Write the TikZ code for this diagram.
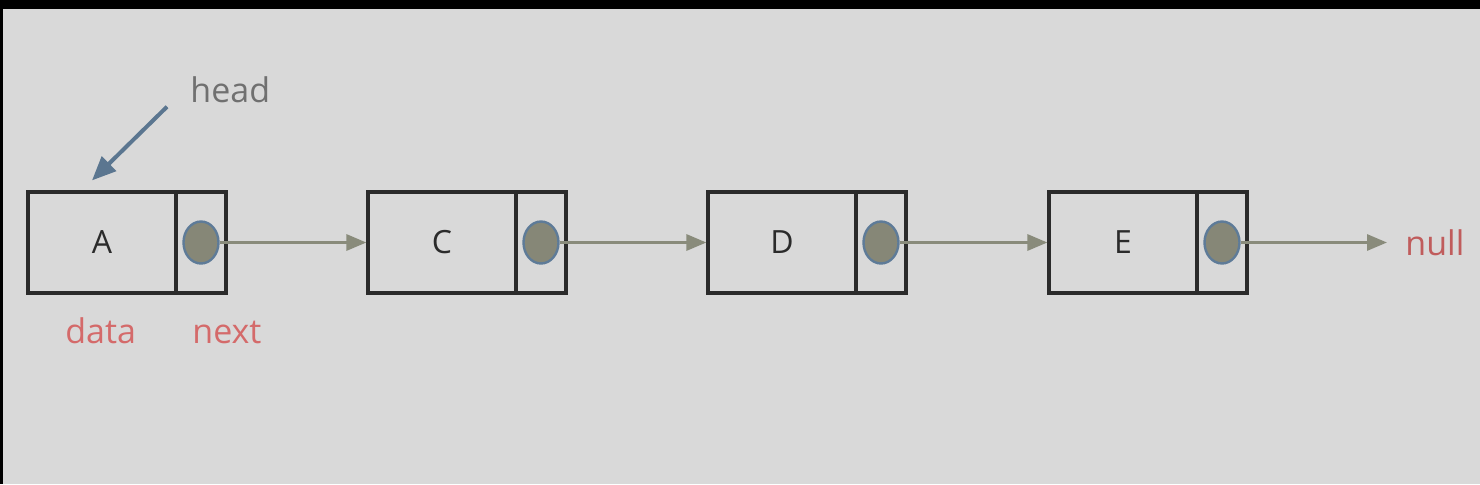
\documentclass[tikz,border=0pt]{standalone}
\usepackage{fontspec}
\setmainfont{Open Sans}
\usetikzlibrary{arrows.meta,shapes.geometric}
\definecolor{bg}{HTML}{D9D9D9}
\definecolor{boxline}{HTML}{2B2B2B}
\definecolor{ptrfill}{HTML}{868777}
\definecolor{ptrline}{HTML}{5E7B98}
\definecolor{linkcol}{HTML}{898B7B}
\definecolor{lblred}{HTML}{D46A6A}
\definecolor{nullred}{HTML}{C05C5C}
\definecolor{headgray}{HTML}{707070}
\definecolor{headblue}{HTML}{5B7690}
\tikzset{
  cell/.style={draw=boxline, line width=1.6pt, minimum height=50.5pt, inner sep=0pt},
  datacell/.style={cell, minimum width=74pt, text=boxline, font=\fontsize{16}{19}\selectfont},
  nextcell/.style={cell, minimum width=25pt},
  ptr/.style={ellipse, draw=ptrline, fill=ptrfill, line width=1.2pt, minimum width=17.5pt, minimum height=21pt, inner sep=0pt},
  link/.style={draw=linkcol, line width=1.5pt, -{Triangle[length=10pt,width=8pt]}},
  lbl/.style={inner sep=0pt, anchor=base west, font=\fontsize{17}{20}\selectfont},
}
\begin{document}
\begin{tikzpicture}[x=0.5pt,y=0.5pt]
                \useasboundingbox (0,0) rectangle (1480,484);
                \fill[black] (0,0) rectangle (1480,484);
                \fill[bg] (3,0) rectangle (1480,475);

                \foreach \name/\val/\x in {a/A/27,c/C/367,d/D/707,e/E/1048} {
                  \node[datacell] (\name) at (\x+75,241.5) {\val};
                  \node[nextcell] (\name n) at (\x+174,241.5) {};
                  \node[ptr] (\name p) at (\name n) {};
                }

                \foreach \from/\to in {a/c,c/d,d/e}
                  \draw[link] (\from p.east) -- (\to.west);

                \node[lbl, text=nullred] (null) at (1405,229) {null};
                \draw[link, shorten >=9pt] (ep.east) -- (ep.east -| null.west);

                \node[lbl, text=headgray] (head) at (190,382) {head};
                \draw[draw=headblue, line width=2pt, -{Triangle[length=12pt,width=10pt]}]
                  ([shift={(-11.5pt,-2pt)}]head.south west) -- ([shift={(-5pt,5pt)}]a.north);

                \node[lbl, text=lblred] (datalbl) at (65,141) {data};
                \node[lbl, text=lblred] (nextlbl) at (192,141) {next};
            \end{tikzpicture}
\end{document}
